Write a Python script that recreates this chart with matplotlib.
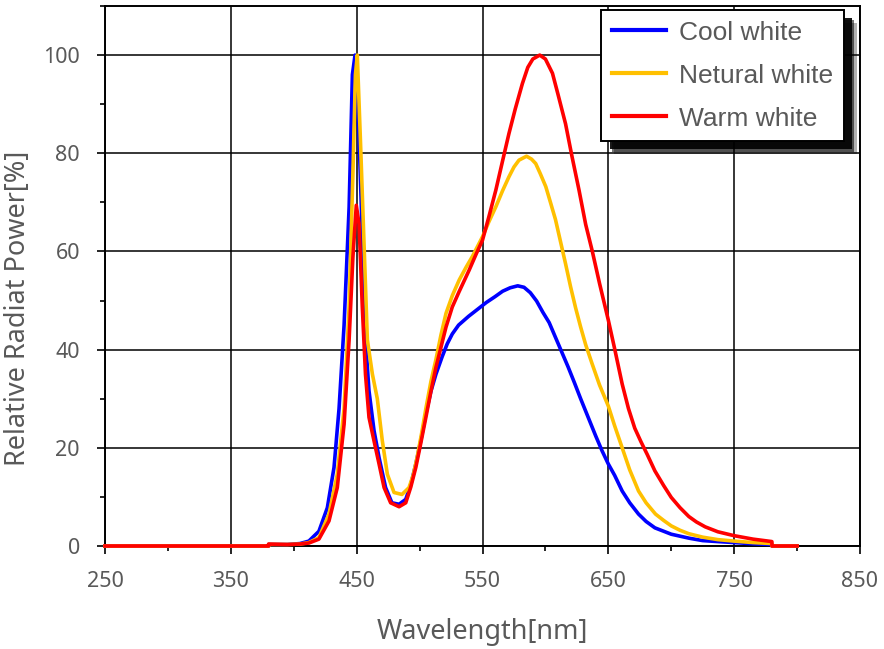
import matplotlib.pyplot as plt
import matplotlib.patheffects as pe
from matplotlib.ticker import MultipleLocator

# spectra (wavelength nm, relative power %)
cool_x = [250, 380, 380, 395, 405, 412, 420, 426.7, 432, 436, 440, 444, 446.6, 448.7, 450, 452,
          455, 457, 459.8, 463.8, 467.8, 473, 478, 483.7, 489, 493, 497, 501, 505, 509, 513,
          518, 522, 526, 531, 539, 546, 553, 560, 566, 572, 578, 583, 588, 593, 598, 603,
          608, 613, 618, 623, 628, 634, 640, 645, 650, 655, 661, 667, 674, 680, 687, 694,
          700, 707, 714, 725, 737, 750, 765, 780, 780, 800]
cool_y = [0, 0, 0.3, 0.3, 0.5, 1, 3, 7.8, 16, 28, 45, 69, 96, 100, 95, 82.6,
          59, 42, 31.6, 23.5, 18, 11.9, 8.8, 8.5, 9.5, 12.5, 16.7, 21.5, 26.9, 31.5, 35,
          38.6, 41.2, 43.2, 45, 46.8, 48.2, 49.6, 50.8, 51.9, 52.6, 53, 52.7, 51.6, 49.9, 47.6, 45.5,
          42.5, 39.5, 36.5, 33.3, 30, 26.2, 22.4, 19.4, 16.7, 14.4, 11.2, 8.8, 6.5, 5, 3.7, 3.0,
          2.4, 2.0, 1.6, 1.1, 0.9, 0.7, 0.45, 0.3, 0, 0]

neutral_x = [250, 380, 380, 395, 405, 412, 420, 428, 434.6, 440, 444, 447, 449, 450.5, 453,
             455.8, 458.5, 462.5, 466.4, 470.4, 474.4, 479.7, 486, 491.6, 495, 498, 502, 505,
             509, 513, 517, 521, 526, 531.5, 537, 542, 546, 550, 555, 560.6, 566, 571, 575,
             579, 585, 589, 592.3, 596, 600.3, 604, 608, 612, 616, 620, 624, 628, 632, 637,
             643, 650, 655, 661, 667, 674, 680, 687.5, 694, 700, 707, 714, 725, 737, 750, 765,
             780, 780, 800]
neutral_y = [0, 0, 0.3, 0.3, 0.4, 0.7, 1.7, 6.5, 14.6, 28, 48.6, 75.8, 96, 100, 82.6,
             62, 42, 35, 30, 21.4, 14.6, 10.9, 10.5, 11.9, 14.5, 18, 23.5, 28,
             33.5, 38, 43, 47.4, 51, 54.2, 56.8, 59, 61, 63, 66, 69.1, 72.4, 75.2, 77.2,
             78.6, 79.4, 78.8, 77.9, 75.8, 73.2, 70, 66.5, 62, 57.5, 52.8, 48.5, 44.6, 41, 37.2,
             32.8, 28.5, 24.5, 20, 15.5, 11.2, 8.8, 6.5, 5.2, 4.1, 3.2, 2.5, 1.8, 1.3, 1, 0.7,
             0.5, 0, 0]

warm_x = [250, 380, 380, 395, 405, 412, 420, 428, 434.6, 440, 444, 447, 449.7, 451.9, 454.5,
          457, 459.8, 463.8, 467.8, 471.8, 477, 483.7, 489, 493, 497, 501, 505, 509, 513,
          517, 521, 526, 531.4, 539.4, 545, 550, 555, 560.6, 566, 571, 576, 581.7, 586, 590,
          595.5, 600, 605.6, 610, 616, 621, 626.7, 632, 637.3, 643, 650, 655, 661, 666, 671,
          676, 681, 687, 694, 700, 707, 714, 720, 727, 737, 750, 765, 780, 780, 800]
warm_y = [0, 0, 0.4, 0.3, 0.4, 0.6, 1.4, 5.1, 11.9, 24.8, 42, 58.8, 69.4, 65.6, 48.6,
          35, 26.2, 21.4, 16.7, 11.9, 8.8, 8, 8.8, 12, 16, 21, 26.2, 31.5, 36.4,
          40.5, 44.6, 48.7, 51.8, 56.2, 59.5, 62.3, 67, 72.5, 78.5, 84, 89, 94.2, 97.5, 99.2,
          100, 99.2, 96.3, 92, 86, 79.5, 72.5, 65.5, 60, 53.5, 46, 40.2, 33, 28, 24,
          21.2, 18.6, 15.3, 12.3, 9.9, 7.8, 6, 4.9, 3.9, 2.9, 2.1, 1.4, 0.9, 0, 0]

labels = ["Cool white", "Netural white", "Warm white"]
colors = ["#0000FF", "#FFC000", "#FF0000"]

grey = "#595959"
plt.rcParams['font.family'] = ['Noto Sans', 'DejaVu Sans']

fig = plt.figure(figsize=(8.84, 6.49), dpi=100)
ax = fig.add_axes([105/884, 1-546/649, 755/884, 540/649])

for xs, ys, lab, c in zip([cool_x, neutral_x, warm_x], [cool_y, neutral_y, warm_y], labels, colors):
    ax.plot(xs, ys, color=c, lw=2.6, label=lab, clip_on=False, zorder=3,
            solid_joinstyle='round')

ax.set_xlim(250, 850)
ax.set_ylim(0, 110)
ax.xaxis.set_minor_locator(MultipleLocator(50))
ax.yaxis.set_minor_locator(MultipleLocator(10))
ax.set_yticks([0, 20, 40, 60, 80, 100])
ax.set_xticks([250, 350, 450, 550, 650, 750, 850])

ax.grid(True, which='major', color='black', lw=1.1)
ax.set_axisbelow(True)
for s in ax.spines.values():
    s.set_color('black')
    s.set_linewidth(1.4)
ax.tick_params(which='major', direction='out', length=6, width=1.2, color='black',
               labelsize=15.5, labelcolor=grey, pad=12)
ax.tick_params(which='minor', direction='out', length=3.6, width=1.2, color='black')

ax.set_xlabel("Wavelength[nm]", fontsize=19.5, color=grey, labelpad=19)
ax.set_ylabel("Relative Radiat Power[%]", fontsize=19.5, color=grey, labelpad=8)
ax.yaxis.label.set_y(0.44)

leg = ax.legend(loc='upper right', bbox_to_anchor=(844/884, 1-10/649), bbox_transform=fig.transFigure,
                fancybox=False, edgecolor='black', framealpha=1, borderaxespad=0,
                prop={'family': 'Liberation Sans', 'size': 19}, handlelength=2.05,
                labelspacing=0.72, borderpad=0.4, handletextpad=0.5)
for t in leg.get_texts():
    t.set_color(grey)
for h in leg.legend_handles:
    h.set_linewidth(3)
leg.get_frame().set_linewidth(1.4)
leg.get_frame().set_path_effects([
    pe.SimplePatchShadow(offset=(9, -9), shadow_rgbFace='black', alpha=0.3),
    pe.SimplePatchShadow(offset=(7.5, -7.5), shadow_rgbFace='black', alpha=0.55),
    pe.SimplePatchShadow(offset=(6, -6), shadow_rgbFace='black', alpha=0.9),
    pe.Normal()])

fig.savefig("out.png", dpi=100)
